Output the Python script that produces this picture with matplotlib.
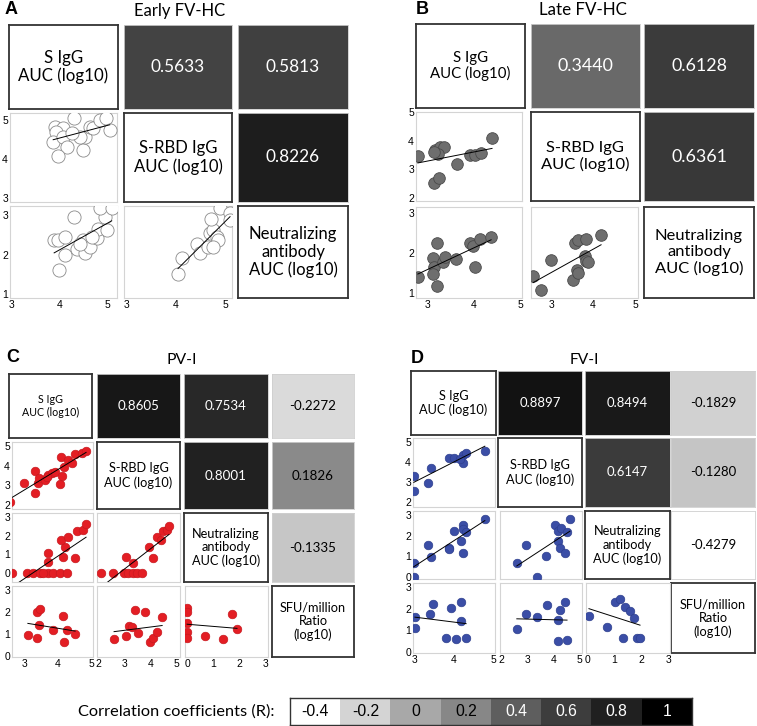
import numpy as np
import matplotlib
matplotlib.use("Agg")
import matplotlib.pyplot as plt
from matplotlib.colors import LinearSegmentedColormap, Normalize

# ---------------- data ----------------
legend_values = [-0.4, -0.2, 0, 0.2, 0.4, 0.6, 0.8, 1]
legend_labels = ["-0.4", "-0.2", "0", "0.2", "0.4", "0.6", "0.8", "1"]
legend_grays = [1.0, 0.83, 0.66, 0.53, 0.37, 0.24, 0.13, 0.0]

labels_3 = ["S IgG\nAUC (log10)", "S-RBD IgG\nAUC (log10)",
            "Neutralizing\nantibody\nAUC (log10)"]
labels_4 = labels_3 + ["SFU/million\nRatio\n(log10)"]

A_corr = [0.5633, 0.5813, 0.8226]
B_corr = [0.3440, 0.6128, 0.6361]
C_corr = [0.8605, 0.7534, -0.2272, 0.8001, 0.1826, -0.1335]
D_corr = [0.8897, 0.8494, -0.1829, 0.6147, -0.1280, -0.4279]

A_sigg_rbd_x = [3.90, 4.06, 4.29, 3.92, 3.86, 4.06, 4.15, 3.96, 4.48, 4.52, 4.63, 4.69, 4.83, 4.96, 5.04, 4.42, 4.25]
A_sigg_rbd_y = [4.82, 4.80, 5.05, 4.69, 4.43, 4.56, 4.30, 4.09, 4.22, 4.56, 4.82, 4.80, 5.00, 5.05, 4.74, 4.56, 4.66]
A_sigg_neut_x = [3.88, 3.96, 4.10, 4.29, 3.98, 4.10, 4.35, 4.48, 4.52, 4.63, 4.77, 4.79, 4.98, 4.94, 4.83, 5.08, 4.42, 4.67]
A_sigg_neut_y = [2.36, 2.38, 2.44, 2.95, 1.62, 2.00, 2.15, 2.36, 2.03, 2.18, 2.41, 2.64, 2.62, 2.95, 3.18, 3.18, 2.28, 2.44]
A_rbd_neut_x = [4.04, 4.12, 4.43, 4.49, 4.65, 4.69, 4.76, 4.84, 4.86, 4.71, 4.90, 5.10, 5.10, 4.76]
A_rbd_neut_y = [1.51, 1.92, 2.28, 2.03, 2.18, 2.54, 2.62, 2.44, 2.36, 2.90, 3.18, 3.05, 2.87, 2.18]

B_sigg_rbd_x = [2.78, 3.13, 3.24, 3.15, 3.26, 3.35, 3.22, 3.12, 3.63, 3.91, 4.02, 4.15, 4.39]
B_sigg_rbd_y = [3.45, 2.53, 2.70, 3.66, 3.76, 3.76, 3.52, 3.59, 3.20, 3.48, 3.48, 3.55, 4.08]
B_sigg_neut_x = [2.78, 3.20, 3.20, 3.11, 3.13, 3.11, 3.33, 3.37, 3.61, 3.91, 3.98, 4.13, 4.02, 4.37]
B_sigg_neut_y = [1.40, 2.25, 1.18, 1.88, 1.65, 1.48, 1.78, 1.90, 1.85, 2.25, 2.18, 2.35, 1.65, 2.40]
B_rbd_neut_x = [2.57, 2.76, 3.00, 3.52, 3.57, 3.64, 3.83, 3.62, 3.64, 3.81, 3.83, 3.88, 4.19]
B_rbd_neut_y = [1.43, 1.08, 1.83, 1.33, 2.25, 2.33, 2.35, 1.58, 1.50, 1.93, 1.80, 1.78, 2.45]

C_sigg_rbd_x = [2.55, 2.97, 3.30, 3.30, 3.39, 3.42, 3.61, 3.70, 3.82, 3.91, 4.06, 4.12, 4.09, 4.18, 4.30, 4.42, 4.52, 4.73, 4.85, 3.67]
C_sigg_rbd_y = [2.15, 3.10, 2.60, 3.73, 3.12, 3.37, 3.27, 3.53, 3.63, 3.68, 3.07, 3.48, 4.44, 3.93, 4.29, 4.14, 4.59, 4.64, 4.74, 3.42]
C_sigg_neut_x = [2.60, 3.05, 3.24, 3.45, 3.70, 3.85, 4.06, 4.27, 3.55, 3.70, 3.70, 4.15, 4.21, 4.09, 4.30, 4.52, 4.58, 4.76, 4.85]
C_sigg_neut_y = [0, 0, 0, 0, 0, 0, 0, 0, 0, 0.60, 1.07, 0.86, 1.40, 1.77, 1.93, 0.80, 2.25, 2.30, 2.60]
C_rbd_neut_x = [2.11, 2.57, 2.99, 3.14, 3.33, 3.48, 3.67, 3.06, 3.33, 3.94, 4.09, 4.24, 4.40, 4.47, 4.62, 4.70]
C_rbd_neut_y = [0, 0, 0, 0, 0, 0, 0, 0.86, 0.54, 1.40, 0.80, 1.93, 1.77, 2.25, 2.30, 2.52]
C_sigg_sfu_x = [3.09, 3.36, 3.36, 3.45, 3.42, 3.85, 4.15, 4.27, 4.18, 4.52]
C_sigg_sfu_y = [0.95, 0.82, 2.00, 2.14, 1.41, 1.18, 1.82, 1.18, 0.64, 1.00]
C_rbd_sfu_x = [2.61, 3.06, 3.19, 3.29, 3.41, 3.52, 3.79, 3.98, 4.10, 4.24, 4.44]
C_rbd_sfu_y = [0.77, 0.91, 1.36, 1.32, 2.09, 1.05, 1.98, 0.64, 0.82, 1.09, 1.77]
C_neut_sfu_x = [0, 0, 0, 0, 0, 0.68, 1.37, 1.71, 1.90]
C_neut_sfu_y = [2.18, 2.00, 1.50, 1.09, 0.82, 0.91, 0.77, 1.91, 1.23]

D_sigg_rbd_x = [2.97, 2.97, 3.33, 3.41, 3.87, 4.00, 4.23, 4.31, 4.23, 4.15, 4.79]
D_sigg_rbd_y = [3.30, 2.55, 2.93, 3.70, 4.20, 4.20, 4.35, 4.45, 3.95, 4.15, 4.55]
D_sigg_neut_x = [2.97, 2.97, 3.33, 3.41, 3.87, 3.87, 4.00, 4.23, 4.23, 4.18, 4.23, 4.31, 4.79]
D_sigg_neut_y = [0.68, 0.00, 1.55, 0.97, 1.40, 1.33, 2.23, 2.50, 2.30, 1.75, 1.17, 2.18, 2.80]
D_rbd_neut_x = [2.60, 2.95, 3.37, 3.71, 4.05, 4.17, 4.17, 4.24, 4.28, 4.43, 4.51, 4.62]
D_rbd_neut_y = [0.68, 1.55, 0.00, 1.01, 2.50, 2.23, 1.75, 1.40, 2.35, 1.17, 2.18, 2.80]
D_sigg_sfu_x = [3.00, 3.00, 3.38, 3.46, 3.79, 3.92, 4.05, 4.18, 4.18, 4.31]
D_sigg_sfu_y = [1.62, 1.11, 1.76, 2.22, 0.65, 2.03, 0.60, 2.31, 1.43, 0.65]
D_rbd_sfu_x = [2.60, 2.95, 3.37, 3.75, 4.17, 4.24, 4.17, 4.43, 4.51]
D_rbd_sfu_y = [1.06, 1.76, 1.62, 2.17, 1.48, 1.94, 0.51, 2.31, 0.56]
D_neut_sfu_x = [0.04, 0.71, 1.00, 1.20, 1.31, 1.39, 1.57, 1.72, 1.85, 1.95]
D_neut_sfu_y = [1.66, 1.16, 2.31, 2.45, 0.65, 2.08, 1.89, 1.57, 0.65, 0.62]

# ---------------- figure ----------------
W, H = 757, 726
fig = plt.figure(figsize=(W / 100, H / 100), dpi=100)
fig.patch.set_facecolor("white")
renderer = fig.canvas.get_renderer()

CELL_FONT = ["Lato", "DejaVu Sans"]
TICK_FONT = ["Liberation Sans", "DejaVu Sans"]

cmap = LinearSegmentedColormap.from_list(
    "corr", [((v + 0.4) / 1.4, (g, g, g)) for v, g in zip(legend_values, legend_grays)])
norm = Normalize(-0.4, 1.0)


def size_for(text, target_px, family, base=10.0):
    t = fig.text(0, 0, text, fontsize=base, family=family)
    w = t.get_window_extent(renderer).width
    t.remove()
    return base * target_px / w


def ax_px(x0, y0, x1, y1):
    return fig.add_axes([x0 / W, 1 - y1 / H, (x1 - x0) / W, (y1 - y0) / H])


def blank(ax):
    ax.set_xticks([])
    ax.set_yticks([])


def draw_panel(letter, title, title_w, letter_xy, title_xy, col_px, row_px, sc_col_px,
               xlims, ylims, xticks, yticks, labels, corr, pairs, mstyle,
               lab_w, first_lab_w, val_w):
    n = len(labels)
    fs_lab = size_for("AUC (log10)", lab_w, CELL_FONT)
    fs_first = size_for("AUC (log10)", first_lab_w, CELL_FONT)
    fs_val = size_for("0.5633", val_w, CELL_FONT)
    fig.text(letter_xy[0] / W, 1 - letter_xy[1] / H, letter, fontsize=13,
             fontweight="bold", family=TICK_FONT, ha="center", va="center")
    fig.text(title_xy[0] / W, 1 - title_xy[1] / H, title,
             fontsize=size_for(title, title_w, CELL_FONT),
             family=CELL_FONT, ha="center", va="center")
    k_c = 0
    order_lower = [(i, j) for i in range(n) for j in range(n) if j < i]
    for i in range(n):
        for j in range(i, n):
            x0, x1 = col_px[j]
            y0, y1 = row_px[i]
            ax = ax_px(x0, y0, x1, y1)
            blank(ax)
            if i == j:
                for s in ax.spines.values():
                    s.set_color("#333333")
                    s.set_linewidth(1.3)
                ax.text(0.5, 0.5, labels[i], ha="center", va="center",
                        fontsize=fs_first if i == 0 else fs_lab, family=CELL_FONT,
                        transform=ax.transAxes, linespacing=1.15)
            else:
                r = corr[k_c]
                k_c += 1
                col = cmap(norm(r))
                ax.set_facecolor(col)
                for s in ax.spines.values():
                    s.set_color("#cfcfcf")
                    s.set_linewidth(0.6)
                tc = "white" if col[0] < 0.5 else "black"
                ax.text(0.5, 0.5, f"{r:.4f}", ha="center", va="center",
                        fontsize=fs_val, family=CELL_FONT, color=tc,
                        transform=ax.transAxes)
    for (i, j), (xs, ys) in zip(order_lower, pairs):
        x0, x1 = sc_col_px[j]
        y0, y1 = row_px[i]
        ax = ax_px(x0, y0, x1, y1)
        xs = np.asarray(xs, float)
        ys = np.asarray(ys, float)
        ax.scatter(xs, ys, zorder=3, **mstyle)
        b, a = np.polyfit(xs, ys, 1)
        xx = np.array([xs.min(), xs.max()])
        ax.plot(xx, a + b * xx, color="black", lw=0.7, zorder=4)
        ax.set_xlim(*xlims[j])
        ax.set_ylim(*ylims[i])
        for s in ax.spines.values():
            s.set_color("#d4d4d4")
            s.set_linewidth(0.8)
        ax.tick_params(length=0, labelsize=7.5, pad=1.5)
        if i == n - 1:
            ax.set_xticks(xticks[j])
            for t in ax.get_xticklabels():
                t.set_family(TICK_FONT)
        else:
            ax.set_xticks([])
        if j == 0:
            ax.set_yticks(yticks[i])
            for t in ax.get_yticklabels():
                t.set_family(TICK_FONT)
        else:
            ax.set_yticks([])


# Panel A
draw_panel("A", "Early FV-HC", 91, (11, 9), (180, 11),
           col_px=[(9, 118), (124, 232), (238, 348)],
           row_px=[(25, 109), (113, 202), (206, 298)],
           sc_col_px=[(10, 117), (124, 232)],
           xlims=[(2.96, 5.19), (2.94, 5.14)],
           ylims=[None, (2.9, 5.18), (0.9, 3.23)],
           xticks=[[3, 4, 5], [3, 4, 5]],
           yticks=[None, [3, 4, 5], [1, 2, 3]],
           labels=labels_3, corr=A_corr,
           pairs=[(A_sigg_rbd_x, A_sigg_rbd_y), (A_sigg_neut_x, A_sigg_neut_y),
                  (A_rbd_neut_x, A_rbd_neut_y)],
           mstyle=dict(s=90, facecolor="white", edgecolor="#8a8a8a", linewidths=0.6),
           lab_w=89, first_lab_w=90, val_w=54)

# Panel B
draw_panel("B", "Late FV-HC", 88, (422, 9), (583, 10),
           col_px=[(416, 525), (531, 640), (644, 754)],
           row_px=[(24, 108), (112, 201), (207, 298)],
           sc_col_px=[(416, 522), (531, 638)],
           xlims=[(2.74, 5.04), (2.52, 5.07)],
           ylims=[None, (1.89, 5.0), (0.875, 3.15)],
           xticks=[[3, 4, 5], [3, 4, 5]],
           yticks=[None, [2, 3, 4, 5], [1, 2, 3]],
           labels=labels_3, corr=B_corr,
           pairs=[(B_sigg_rbd_x, B_sigg_rbd_y), (B_sigg_neut_x, B_sigg_neut_y),
                  (B_rbd_neut_x, B_rbd_neut_y)],
           mstyle=dict(s=70, facecolor="#6e6e6e", edgecolor="#4a4a4a", linewidths=0.6),
           lab_w=88, first_lab_w=80, val_w=56)

# Panel C
draw_panel("C", "PV-I", 30, (13, 357), (182, 360),
           col_px=[(9, 92), (97, 180), (184, 268), (272, 354)],
           row_px=[(374, 438), (442, 509), (513, 582), (586, 657)],
           sc_col_px=[(12, 93), (97, 180), (185, 268)],
           xlims=[(2.61, 5.06), (1.96, 5.12), (-0.08, 3.08)],
           ylims=[None, (1.8, 5.2), (-0.48, 3.21), (-0.05, 3.18)],
           xticks=[[3, 4, 5], [2, 3, 4, 5], [0, 1, 2, 3]],
           yticks=[None, [2, 3, 4, 5], [0, 1, 2, 3], [0, 1, 2, 3]],
           labels=labels_4, corr=C_corr,
           pairs=[(C_sigg_rbd_x, C_sigg_rbd_y), (C_sigg_neut_x, C_sigg_neut_y),
                  (C_rbd_neut_x, C_rbd_neut_y), (C_sigg_sfu_x, C_sigg_sfu_y),
                  (C_rbd_sfu_x, C_rbd_sfu_y), (C_neut_sfu_x, C_neut_sfu_y)],
           mstyle=dict(s=38, facecolor="#e31e24", edgecolor="#c8191f", linewidths=0.5),
           lab_w=68, first_lab_w=57, val_w=42)

# Panel D
draw_panel("D", "FV-I", 29, (417, 359), (584, 360),
           col_px=[(411, 496), (498, 582), (585, 670), (671, 755)],
           row_px=[(371, 435), (438, 507), (511, 579), (583, 653)],
           sc_col_px=[(413, 495), (500, 582), (586, 670)],
           xlims=[(2.95, 5.05), (1.96, 5.08), (-0.07, 3.07)],
           ylims=[None, (1.75, 5.2), (-0.1, 3.19), (-0.05, 3.18)],
           xticks=[[3, 4, 5], [2, 3, 4, 5], [0, 1, 2, 3]],
           yticks=[None, [2, 3, 4, 5], [0, 1, 2, 3], [0, 1, 2, 3]],
           labels=labels_4, corr=D_corr,
           pairs=[(D_sigg_rbd_x, D_sigg_rbd_y), (D_sigg_neut_x, D_sigg_neut_y),
                  (D_rbd_neut_x, D_rbd_neut_y), (D_sigg_sfu_x, D_sigg_sfu_y),
                  (D_rbd_sfu_x, D_rbd_sfu_y), (D_neut_sfu_x, D_neut_sfu_y)],
           mstyle=dict(s=38, facecolor="#3b4ea6", edgecolor="#2e3f8e", linewidths=0.5),
           lab_w=68, first_lab_w=68, val_w=41)

# Legend
leg_title = "Correlation coefficients (R):"
fig.text(275 / W, 1 - 712 / H, leg_title, ha="right", va="center",
         fontsize=size_for(leg_title, 197, CELL_FONT), family=CELL_FONT)
lax = ax_px(290, 698, 692, 725)
lax.imshow(np.array([legend_values]), cmap=cmap, norm=norm, aspect="auto",
           extent=(0, len(legend_values), 0, 1))
LEG_FONT = ["Liberation Sans Narrow", "Liberation Sans"]
fs_leg = size_for("0.2", 22, LEG_FONT)
for k, (v, lab) in enumerate(zip(legend_values, legend_labels)):
    g = cmap(norm(v))[0]
    lax.text(k + 0.5, 0.5, lab, ha="center", va="center", fontsize=fs_leg,
             family=LEG_FONT, color="white" if g < 0.5 else "black")
blank(lax)
for s in lax.spines.values():
    s.set_color("#333333")
    s.set_linewidth(1.0)

fig.savefig("out.png", dpi=100, facecolor="white")
